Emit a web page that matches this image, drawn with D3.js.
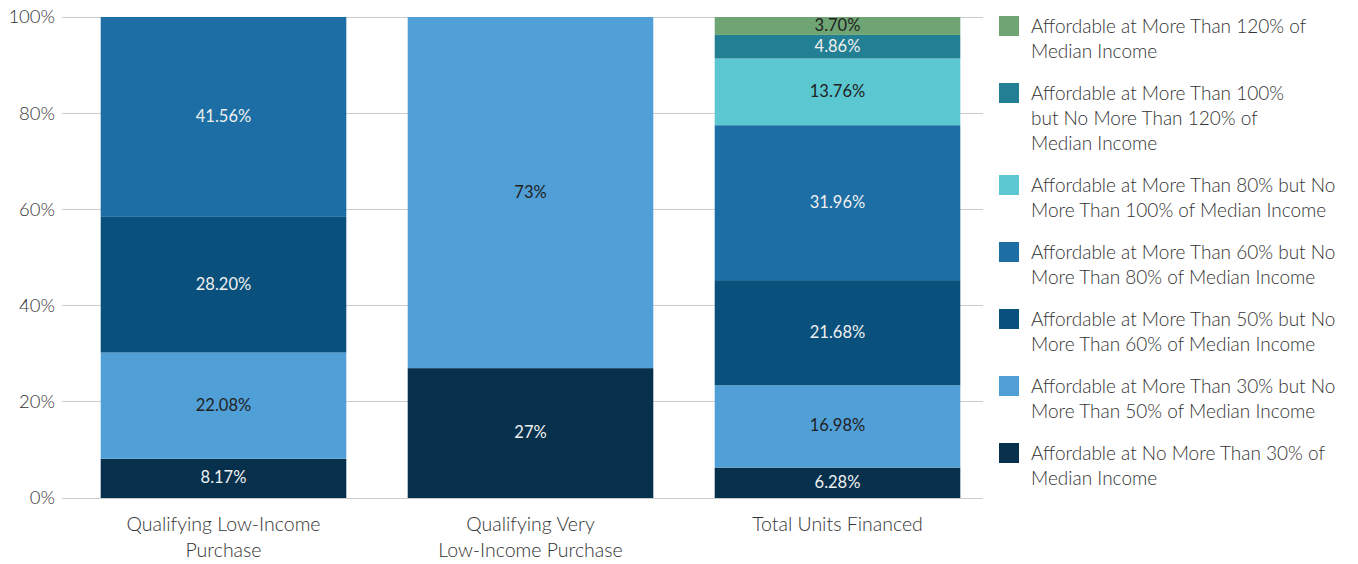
<!DOCTYPE html>
<html><head><meta charset="utf-8">
<script src="https://cdn.jsdelivr.net/npm/d3@7"></script>
<style>
body{margin:0;background:#fff;}
text{font-family:"Lato","Open Sans",sans-serif;}
</style></head>
<body><svg id="c" width="1358" height="564"></svg>
<script>
const categories = [["Qualifying Low-Income","Purchase"],["Qualifying Very","Low-Income Purchase"],["Total Units Financed"]];
const seriesNames = [
  ["Affordable at No More Than 30% of","Median Income"],
  ["Affordable at More Than 30% but No","More Than 50% of Median Income"],
  ["Affordable at More Than 50% but No","More Than 60% of Median Income"],
  ["Affordable at More Than 60% but No","More Than 80% of Median Income"],
  ["Affordable at More Than 80% but No","More Than 100% of Median Income"],
  ["Affordable at More Than 100%","but No More Than 120% of","Median Income"],
  ["Affordable at More Than 120% of","Median Income"]
];
const colors = ["#07304d","#509fd6","#0a507c","#1c6ea4","#5bc7d0","#237f93","#6fa574"];
const labelColors = ["#f0f0f0","#222","#f0f0f0","#f0f0f0","#222","#f0f0f0","#222"];
const lowIncome = [8.17, 22.08, 28.20, 41.56, 0, 0, 0];
const veryLowIncome = [27, 73, 0, 0, 0, 0, 0];
const totalUnits = [6.28, 16.98, 21.68, 31.96, 13.76, 4.86, 3.70];
const labelsLow = ["8.17%","22.08%","28.20%","41.56%","","",""];
const labelsVery = ["27%","73%","","","","",""];
const labelsTotal = ["6.28%","16.98%","21.68%","31.96%","13.76%","4.86%","3.70%"];
const yTicks = [0,0.2,0.4,0.6,0.8,1];

const rows = [lowIncome, veryLowIncome, totalUnits];
const labels = [labelsLow, labelsVery, labelsTotal];
const data = rows.map((r,i)=>{const o={cat:i}; r.forEach((v,j)=>o["s"+j]=v); return o;});
const keys = seriesNames.map((d,j)=>"s"+j);
const stack = d3.stack().keys(keys).offset(d3.stackOffsetExpand)(data);

const svg = d3.select("#c");
const x = d3.scaleBand().domain([0,1,2]).range([70,991]).paddingInner(0.2).paddingOuter(0.1);
const y = d3.scaleLinear().domain([0,1]).range([498,17]);

// grid
svg.append("g").selectAll("line").data(yTicks).join("line")
  .attr("x1",62).attr("x2",983).attr("y1",d=>y(d)).attr("y2",d=>y(d))
  .attr("stroke","#cccccc").attr("stroke-width",1).attr("shape-rendering","crispEdges");
svg.append("g").selectAll("text").data(yTicks).join("text")
  .attr("x",55).attr("y",d=>y(d)).attr("dy","0.35em").attr("text-anchor","end")
  .attr("font-size",18.5).attr("fill","#333").attr("font-weight",300)
  .text(d3.format(".0%"));

// bars
stack.forEach((s,j)=>{
  const g = svg.append("g");
  g.selectAll("rect").data(s).join("rect")
    .attr("x",d=>x(d.data.cat)).attr("width",x.bandwidth())
    .attr("y",d=>y(d[1])).attr("height",d=>y(d[0])-y(d[1]))
    .attr("fill",colors[j]);
  g.selectAll("text").data(s.filter(d=>labels[d.data.cat][j]!=="")).join("text")
    .attr("x",d=>x(d.data.cat)+x.bandwidth()/2).attr("y",d=>(y(d[0])+y(d[1]))/2)
    .attr("dy","0.3em").attr("text-anchor","middle").attr("font-size",16.5)
    .attr("font-weight",400)
    .attr("fill",labelColors[j]).text(d=>labels[d.data.cat][j]);
});

// x labels
categories.forEach((lines,i)=>{
  const t = svg.append("text").attr("text-anchor","middle").attr("font-size",19.5)
    .attr("fill","#333").attr("font-weight",300);
  lines.forEach((l,k)=>t.append("tspan").attr("x",x(i)+x.bandwidth()/2).attr("y",531+k*26).text(l));
});

// legend (top to bottom: highest series first)
let ly = 26;
for(let j=seriesNames.length-1;j>=0;j--){
  const lines = seriesNames[j];
  svg.append("rect").attr("x",999).attr("y",ly-10).attr("width",20).attr("height",20).attr("fill",colors[j]);
  const t = svg.append("text").attr("font-size",19).attr("fill","#333").attr("font-weight",300);
  lines.forEach((l,k)=>t.append("tspan").attr("x",1031).attr("y",ly+k*25).attr("dy","0.35em").text(l));
  ly += lines.length*25 + 17;
}
</script></body></html>
